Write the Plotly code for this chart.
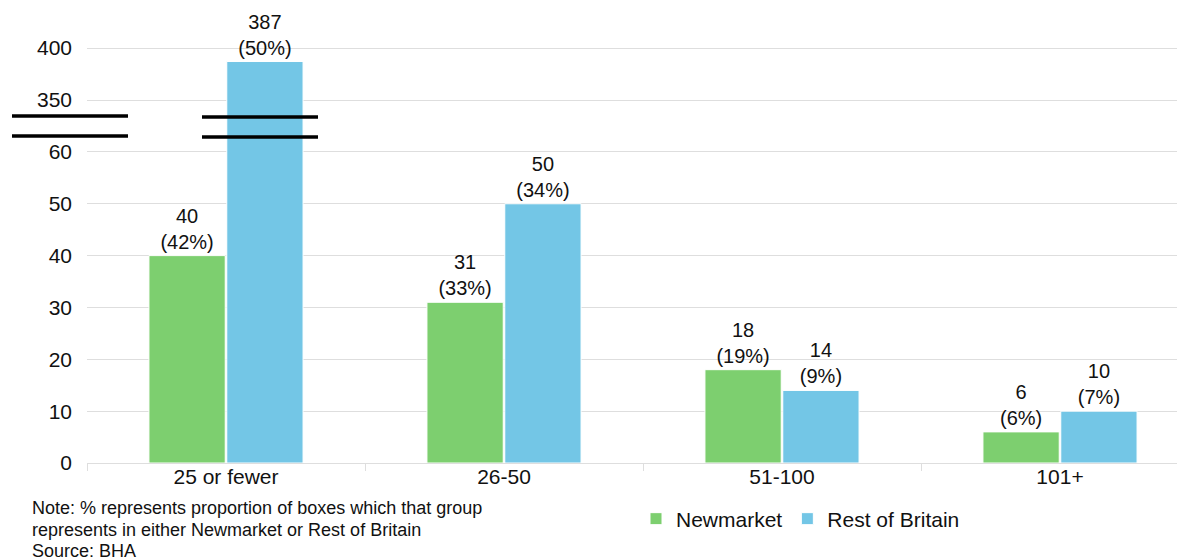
import plotly.graph_objects as go

categories = ["25 or fewer", "26-50", "51-100", "101+"]
newmarket = [40, 31, 18, 6]
newmarket_pct = [42, 33, 19, 6]
rest_of_britain = [387, 50, 14, 10]
rest_pct = [50, 34, 9, 7]
lower_ticks = [0, 10, 20, 30, 40, 50, 60]
upper_ticks = [350, 400]
note_lines = [
    "Note: % represents proportion of boxes which that group",
    "represents in either Newmarket or Rest of Britain",
    "Source: BHA",
]

GREEN = "#7DCF6F"
BLUE = "#73C6E6"
GRID = "#DEDEDE"
FONT = "Liberation Sans, Arial, sans-serif"

# page offset of the plot div (body margin)
OFF = 8
W, H = 1185, 559
# geometry in screen pixels of the reference
S_PL, S_PT, S_PB, S_PR = 87, 40, 463, 1185
PL, PT, PB, PR = S_PL - OFF, S_PT - OFF, S_PB - OFF, S_PR - OFF
plot_h = PB - PT
plot_w = PR - PL
split_s = 126
split = (S_PB - split_s) / plot_h
lower_max = 65.0
px_per_unit_up = 1.04
up_lo = 350 - (split_s - 100) / px_per_unit_up
up_hi = up_lo + (split_s - S_PT) / px_per_unit_up
x_hi = 3.5 - 14 / 278


def lab(v, p):
    return f"{v}<br>({p}%)"


def px_x(p):
    return (p - S_PL) / plot_w


def px_y(p):
    return (S_PB - p) / plot_h


fig = go.Figure()
for name, vals, pcts, color, og in [
    ("Newmarket", newmarket, newmarket_pct, GREEN, "a"),
    ("Rest of Britain", rest_of_britain, rest_pct, BLUE, "b"),
]:
    low_text = [lab(v, p) if v <= lower_max else "" for v, p in zip(vals, pcts)]
    up_text = [lab(v, p) if v > lower_max else "" for v, p in zip(vals, pcts)]
    common = dict(
        x=categories, y=vals, name=name, marker_color=color,
        marker_line=dict(color="white", width=1),
        textposition="outside", constraintext="none",
        textfont=dict(size=20, color="#111", family=FONT),
        offsetgroup=og, xaxis="x", hoverinfo="skip",
    )
    fig.add_trace(go.Bar(text=low_text, yaxis="y", cliponaxis=True, **common))
    fig.add_trace(go.Bar(text=up_text, yaxis="y2", cliponaxis=False,
                         showlegend=False, **common))

fig.update_layout(
    width=W, height=H,
    margin=dict(l=PL, r=W - PR, t=PT, b=H - PB, pad=0),
    plot_bgcolor="white", paper_bgcolor="white",
    barmode="group", bargap=0.44, bargroupgap=0.02,
    font=dict(family=FONT, size=21, color="#111"),
    xaxis=dict(
        type="category", range=[-0.5, x_hi], anchor="y",
        showline=True, linecolor=GRID, linewidth=1,
        ticks="outside", tickson="boundaries", ticklen=7, tickcolor=GRID,
        showgrid=False, tickfont=dict(size=21), ticklabelstandoff=-5,
    ),
    yaxis=dict(
        domain=[0, split], range=[0, lower_max], tickvals=lower_ticks,
        showgrid=True, gridcolor=GRID, zeroline=False,
        ticklabelstandoff=14, tickfont=dict(size=21),
    ),
    yaxis2=dict(
        domain=[split, 1], range=[up_lo, up_hi], tickvals=upper_ticks,
        showgrid=True, gridcolor=GRID, zeroline=False,
        ticklabelstandoff=14, tickfont=dict(size=21), anchor="x",
    ),
    legend=dict(
        orientation="h", x=px_x(636), y=px_y(519),
        xanchor="left", yanchor="middle", font=dict(size=21),
        itemwidth=30, traceorder="normal",
    ),
)

for line, yc in zip(note_lines, [508, 530, 551]):
    fig.add_annotation(
        text=line, xref="paper", yref="paper", x=px_x(30), y=px_y(yc),
        xanchor="left", yanchor="middle", align="left", showarrow=False,
        font=dict(size=18, color="#111"),
    )

for x0, x1, ys in [(12, 128, (116, 136)), (202, 318, (117, 137))]:
    for yy in ys:
        fig.add_shape(type="line", xref="paper", yref="paper",
                      x0=px_x(x0), x1=px_x(x1), y0=px_y(yy), y1=px_y(yy),
                      line=dict(color="black", width=3.5))

fig.write_html("out.html")
